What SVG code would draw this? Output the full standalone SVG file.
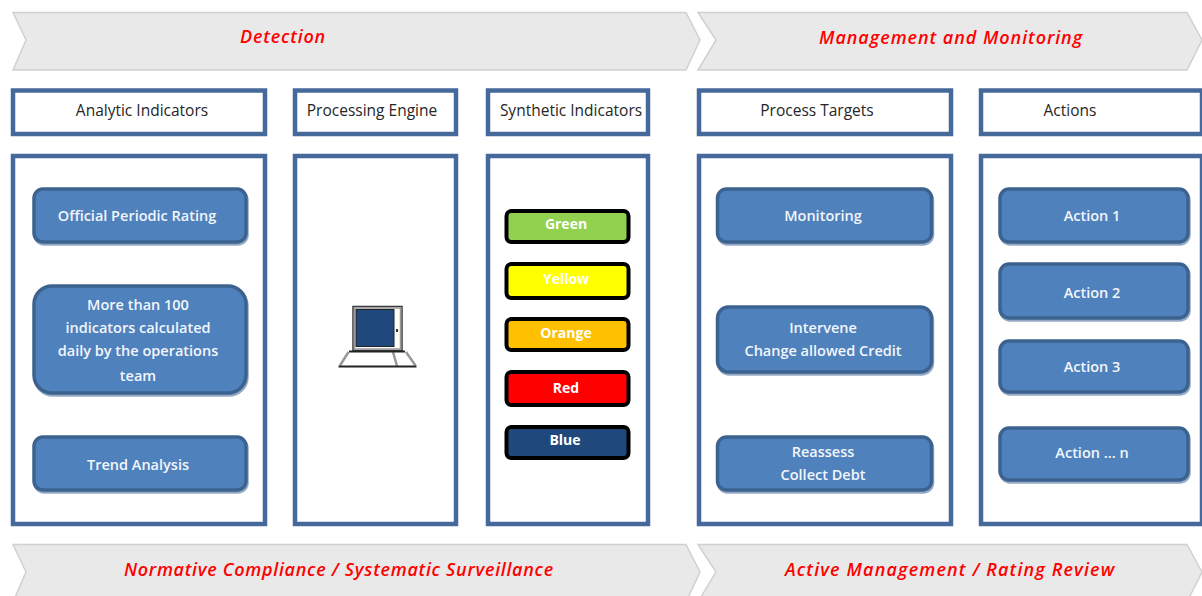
<svg xmlns="http://www.w3.org/2000/svg" width="1202" height="596" viewBox="0 0 1202 596">
<style>
.chev{fill:#e9e9e9;stroke:#d0d0d0;stroke-width:1.5}
.frame{fill:#fff;stroke:#44699a;stroke-width:4.5}
.btn{fill:#4f81bd;stroke:#3c6390;stroke-width:3.5;filter:drop-shadow(1px 2px 0 #94a9c4)}
.ind{stroke:#000;stroke-width:4}
text{font-family:"Open Sans","Liberation Sans",sans-serif;text-anchor:middle}
.hd{font-size:15.5px;fill:#262626}
.w{font-size:14.5px;fill:#f2f6fb;font-weight:600}
.r{font-size:18px;fill:#f00;font-style:italic;font-weight:600;letter-spacing:.8px}
.c{font-size:14px;fill:#fff;font-weight:700}
</style>
<rect width="1202" height="596" fill="#fff"/>
<g id="banner-detection"><polygon class="chev" points="13,12.500 686,12.500 700,40 686,70 13,70 26,40"/><text class="r" x="283" y="43">Detection</text></g>
<g id="banner-management"><polygon class="chev" points="698,12.500 1187,12.500 1202,40 1187,70 698,70 716,40"/><text class="r" x="951" y="44" textLength="264">Management and Monitoring</text></g>
<g id="banner-compliance"><polygon class="chev" points="13,544.500 686,544.500 700,572 686,602 13,602 26,572"/><text class="r" x="339" y="576" textLength="430">Normative Compliance / Systematic Surveillance</text></g>
<g id="banner-active"><polygon class="chev" points="698,544.500 1187,544.500 1202,572 1187,602 698,602 716,572"/><text class="r" x="950" y="576" textLength="330">Active Management / Rating Review</text></g>

<g id="head-analytic"><rect class="frame" x="13" y="90.500" width="252" height="43.500"/><text class="hd" x="142" y="116">Analytic Indicators</text></g>
<g id="head-engine"><rect class="frame" x="295" y="90.500" width="161" height="43.500"/><text class="hd" x="372" y="116">Processing Engine</text></g>
<g id="head-synthetic"><rect class="frame" x="488" y="90.500" width="160" height="43.500"/><text class="hd" x="571" y="116">Synthetic Indicators</text></g>
<g id="head-targets"><rect class="frame" x="699" y="90.500" width="252" height="43.500"/><text class="hd" x="817" y="116">Process Targets</text></g>
<g id="head-actions"><rect class="frame" x="981" y="90.500" width="221" height="43.500"/><text class="hd" x="1070" y="116">Actions</text></g>

<g id="panel-analytic"><rect class="frame" x="13" y="156" width="252" height="368"/></g>
<g id="panel-engine"><rect class="frame" x="295" y="156" width="161" height="368"/></g>
<g id="panel-synthetic"><rect class="frame" x="488" y="156" width="160" height="368"/></g>
<g id="panel-targets"><rect class="frame" x="699" y="156" width="252" height="368"/></g>
<g id="panel-actions"><rect class="frame" x="981" y="156" width="221" height="368"/></g>

<g id="official"><rect class="btn" x="34" y="189" width="212" height="53" rx="9"/><text class="w" x="137" y="221">Official Periodic Rating</text></g>
<g id="more"><rect class="btn" x="34" y="286" width="212" height="107" rx="18"/><text class="w" x="138" y="310">More than 100</text><text class="w" x="138" y="333">indicators calculated</text><text class="w" x="138" y="356">daily by the operations</text><text class="w" x="138" y="381">team</text></g>
<g id="trend"><rect class="btn" x="34" y="437" width="212" height="53" rx="9"/><text class="w" x="138" y="470">Trend Analysis</text></g>

<g id="computer">
<rect x="353" y="306.500" width="49" height="44" fill="#fff" stroke="#3a3a3a" stroke-width="1.500"/>
<rect x="354.500" y="308" width="46" height="41" fill="none" stroke="#999" stroke-width="1.500"/>
<rect x="356" y="309.500" width="38" height="37" fill="#1f497d" stroke="#222" stroke-width="1"/>
<path d="M397 329v3" stroke="#333" stroke-width="2"/>
<path d="M348.500 352L340 365.500M393 352L397 366M406 352L415.500 365.500" stroke="#999" stroke-width="2.500" fill="none"/>
<path d="M338.500 366.500H416.500M349 351.500H405" stroke="#222" stroke-width="2" fill="none"/>
</g>

<g id="green"><rect class="ind" x="506.500" y="211" width="122" height="31" rx="5" fill="#92d050"/><text class="c" x="566" y="229">Green</text></g>
<g id="yellow"><rect class="ind" x="506.500" y="264" width="122" height="34" rx="5" fill="#ff0"/><text class="c" x="566" y="284">Yellow</text></g>
<g id="orange"><rect class="ind" x="506.500" y="319" width="122" height="31" rx="5" fill="#ffc000"/><text class="c" x="566" y="338">Orange</text></g>
<g id="red"><rect class="ind" x="506.500" y="372" width="122" height="33" rx="5" fill="#f00"/><text class="c" x="566" y="393">Red</text></g>
<g id="blue"><rect class="ind" x="506.500" y="427" width="122" height="31" rx="5" fill="#1f497d"/><text class="c" x="565" y="445">Blue</text></g>

<g id="monitoring"><rect class="btn" x="717.500" y="189" width="214" height="53" rx="9"/><text class="w" x="823" y="221">Monitoring</text></g>
<g id="intervene"><rect class="btn" x="717.500" y="307" width="214" height="65" rx="11"/><text class="w" x="823" y="333">Intervene</text><text class="w" x="823" y="356">Change allowed Credit</text></g>
<g id="reassess"><rect class="btn" x="717.500" y="437" width="214" height="53" rx="9"/><text class="w" x="823" y="457">Reassess</text><text class="w" x="823" y="480">Collect Debt</text></g>

<g id="action1"><rect class="btn" x="1000" y="189" width="188" height="53" rx="9"/><text class="w" x="1092" y="221">Action 1</text></g>
<g id="action2"><rect class="btn" x="1000" y="264" width="188" height="54" rx="9"/><text class="w" x="1092" y="298">Action 2</text></g>
<g id="action3"><rect class="btn" x="1000" y="341" width="188" height="51" rx="9"/><text class="w" x="1092" y="372">Action 3</text></g>
<g id="actionn"><rect class="btn" x="1000" y="428" width="188" height="52" rx="9"/><text class="w" x="1092" y="458">Action ... n</text></g>
<g id="connectors"></g>
</svg>
